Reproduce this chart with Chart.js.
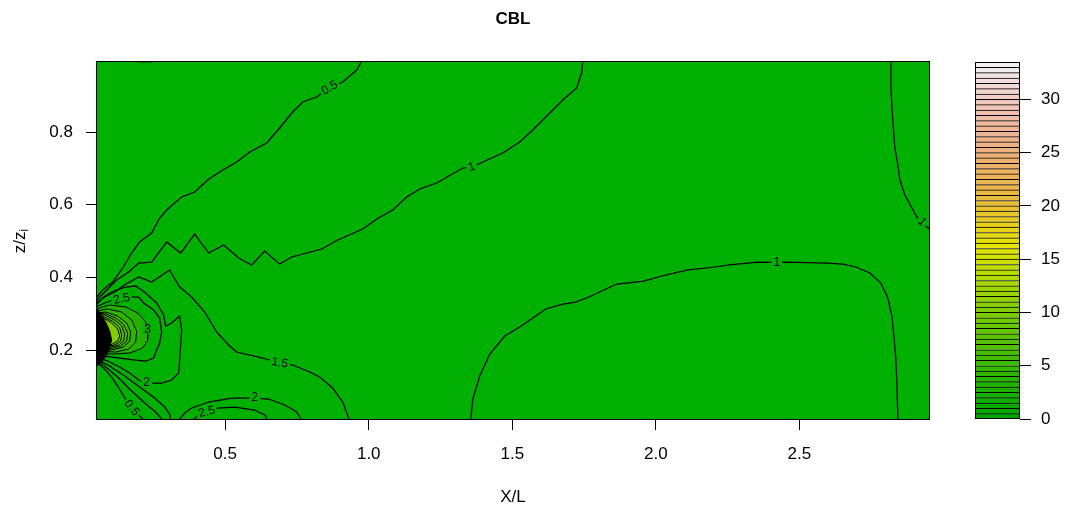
<!DOCTYPE html>
<html>
<head>
<meta charset="utf-8">
<script src="https://cdn.jsdelivr.net/npm/chart.js@4.4.0/dist/chart.umd.min.js"></script>
<style>
  html, body { margin: 0; padding: 0; background: #fff; }
  #wrap { position: relative; width: 1067px; height: 515px; }
  #main { position: absolute; left: 0; top: 0; }
  #key { position: absolute; left: 960px; top: 0; }
</style>
</head>
<body>
<div id="wrap">
  <canvas id="main" width="960" height="515"></canvas>
  <canvas id="key" width="107" height="515"></canvas>
</div>
<script>
// axes
var xTicks = [0.5, 1.0, 1.5, 2.0, 2.5];
var yTicks = [0.2, 0.4, 0.6, 0.8];
var keyTicks = [0, 5, 10, 15, 20, 25, 30];
var colorLevels = [0, 0.5, 1, 1.5, 2, 2.5, 3, 3.5, 4, 4.5, 5, 5.5, 6, 6.5, 7, 7.5, 8, 8.5, 9, 9.5,
  10, 10.5, 11, 11.5, 12, 12.5, 13, 13.5, 14, 14.5, 15, 15.5, 16, 16.5, 17, 17.5, 18, 18.5, 19, 19.5,
  20, 20.5, 21, 21.5, 22, 22.5, 23, 23.5, 24, 24.5, 25, 25.5, 26, 26.5, 27, 27.5, 28, 28.5, 29, 29.5,
  30, 30.5, 31, 31.5, 32, 32.5, 33, 33.5];

// contour lines, [X/L, z/zi]
var c05Upper = [[0.05,.3432],[.0732,.3653],[.1080,.3873],[.1429,.4258],[.1742,.4671],[.2021,.4974],[.2439,.5222],
  [.2718,.5634],[.2962,.5855],[.3484,.6212],[.3937,.6350],[.4390,.6680],[.4913,.6956],[.5401,.7176],[.5854,.7451],
  [.6446,.7699],[.6899,.8112],[.7352,.8552],[.7700,.8827],[.8188,.8965],[.8641,.9213],[.9094,.9378],[.9582,.9708],[.9756,.9956]];
var c10Upper = [[0.05,.3350],[.0871,.3653],[.1220,.3928],[.1638,.4148],[.1986,.4396],[.2439,.4423],[.2962,.4974],
  [.3449,.4671],[.3937,.5194],[.4425,.4671],[.4948,.4891],[.5470,.4533],[.5923,.4341],[.6376,.4726],[.6899,.4368],
  [.7317,.4561],[.7840,.4671],[.8362,.4781],[.8920,.5029],[.9791,.5332],[1.0279,.5607],[1.0836,.5855],[1.1324,.6212],
  [1.1777,.6433],[1.2369,.6598],[1.3275,.7011],[1.3589,.7038],[1.3972,.7176],[1.4669,.7424],[1.5261,.7726],
  [1.5714,.8057],[1.6237,.8470],[1.6760,.8882],[1.7247,.9213],[1.7422,.9653],[1.7456,.9956]];
var c15Upper = [[0.05,.3295],[.0801,.3460],[.1150,.3598],[.1498,.3790],[.1986,.4010],[.2439,.3873],[.3066,.4203],
  [.3415,.3735],[.3833,.3460],[.4286,.3047],[.4704,.2497],[.5122,.2139],[.5401,.1946],[.6307,.1781],[.6899,.1643],
  [.7352,.1588],[.7944,.1396],[.8293,.1258],[.8746,.0955],[.9094,.0570],[.9303,.0129],[.9321,.0074]];
var c20Loop = [[0.05,.3240],[.0767,.3460],[.1115,.3625],[.1533,.3735],[.1882,.3763],[.2230,.3570],[.2613,.3295],
  [.2857,.2965],[.2927,.2662],[.3136,.2744],[.3415,.2937],[.3484,.2552],[.3449,.2139],[.3415,.1726],[.3380,.1368],
  [.3136,.1175],[.2787,.1093],[.2265,.1093],[.1986,.1175],[.1672,.1368],[.1324,.1533],[.0906,.1698],[0.05,.1808]];
var c25Loop = [[0.05,.3185],[.0801,.3295],[.1080,.3377],[.1394,.3405],[.1742,.3460],[.1986,.3460],[.2160,.3295],
  [.2509,.3102],[.2718,.2882],[.2787,.2497],[.2718,.2194],[.2613,.2001],[.2509,.1781],[.2230,.1698],[.1882,.1726],
  [.1324,.1781],[.0801,.1836],[0.05,.1863]];
var c30Loop = [[0.05,.3130],[.0976,.3240],[.1533,.3185],[.1951,.3019],[.2230,.2772],[.2300,.2552],[.2300,.2276],
  [.2125,.2056],[.1672,.1919],[.1045,.1891],[0.05,.1919]];
var c40Loop = [[0.05,.3075],[.0906,.3130],[.1394,.3047],[.1742,.2827],[.1916,.2524],[.1882,.2221],[.1638,.2029],
  [.1185,.1946],[0.05,.1974]];
var c50Loop = [[0.05,.3019],[.0836,.3047],[.1254,.2937],[.1568,.2744],[.1707,.2497],[.1672,.2249],[.1463,.2084],
  [.1045,.2001],[0.05,.2029]];
var c60Loop = [[0.05,.2992],[.0801,.3006],[.1185,.2882],[.1463,.2703],[.1603,.2469],[.1568,.2249],[.1359,.2111],
  [.0976,.2029],[0.05,.2056]];
var c70Loop = [[0.05,.2965],[.0801,.2965],[.1150,.2827],[.1394,.2662],[.1498,.2441],[.1463,.2249],[.1289,.2139],
  [.0906,.2056],[0.05,.2084]];
var c80Loop = [[0.05,.2937],[.0767,.2923],[.1080,.2786],[.1324,.2620],[.1394,.2414],[.1359,.2249],[.1150,.2139],
  [.0836,.2084],[0.05,.2111]];
var c100Loop = [[0.05,.2910],[.0767,.2882],[.1045,.2744],[.1254,.2579],[.1324,.2386],[.1254,.2249],[.1010,.2139],
  [0.05,.2139]];
var sourceCore = [[0.05,.3185],[.0662,.2992],[.0836,.2772],[.0976,.2524],[.1045,.2276],[.0941,.1974],[.0767,.1726],
  [0.05,.1533]];
var c05Lower = [[0.05,.1671],[.0767,.1506],[.1045,.1258],[.1254,.1010],[.1463,.0735],[.1742,.0405],[.2021,.0184],[.2160,.0074]];
var c10Lower = [[0.05,.1726],[.0836,.1533],[.1254,.1258],[.1672,.0928],[.2195,.0542],[.2578,.0295],[.2822,.0074]];
var c15Lower = [[0.05,.1753],[.0976,.1561],[.1498,.1285],[.2021,.0983],[.2544,.0680],[.2892,.0432],[.3066,.0240],[.3101,.0074]];
var c20Ground = [[.3380,.0074],[.3589,.0267],[.3833,.0405],[.4425,.0570],[.5226,.0680],[.6028,.0680],[.6516,.0652],
  [.7073,.0487],[.7491,.0295],[.7666,.0074]];
var c25Ground = [[.3868,.0074],[.4042,.0184],[.4355,.0295],[.4739,.0405],[.5331,.0432],[.6028,.0350],[.6376,.0212],[.6481,.0074]];
var c10Arc = [[1.3554,.0074],[1.3624,.0652],[1.3868,.1285],[1.4216,.1891],[1.4739,.2386],[1.5261,.2634],[1.6167,.3130],
  [1.6760,.3267],[1.7213,.3322],[1.7666,.3460],[1.8188,.3653],[1.8641,.3818],[1.9582,.3900],[2.0209,.4038],
  [2.1080,.4203],[2.2056,.4286],[2.2648,.4354],[2.3554,.4423],[2.4216,.4410],[2.4564,.4423],[2.5993,.4396],
  [2.6516,.4368],[2.6969,.4286],[2.7456,.4120],[2.7840,.3845],[2.8084,.3432],[2.8223,.2937],[2.8293,.2386],
  [2.8362,.1753],[2.8397,.1093],[2.8432,.0074]];
var c10Right = [[2.8188,.9956],[2.8188,.9213],[2.8258,.8277],[2.8328,.7561],[2.8432,.7093],[2.8502,.6680],
  [2.8676,.6268],[2.8920,.5910],[2.9094,.5662],[2.9268,.5524],[2.9443,.5387],[2.9547,.5332]];
var cTopBit = [[.195,.9935],[.244,.9935]];

// contour labels
var labelText = ['0.5', '1', '1.5', '2', '2', '2.5', '2.5', '3', '1', '1', '0.5'];
var labelX = [.8641, 1.3589, .6899, .2265, .6028, .4355, .1394, .2300, 2.4216, 2.9268, .1742];
var labelY = [.9213, .7038, .1643, .1093, .0680, .0295, .3405, .2552, .4410, .5524, .0405];
var labelAngle = [-30, -17, 10, 0, 0, -15, -12, 0, 0, 45, 50];

var fontFam = '"Liberation Sans", Arial, Helvetica, sans-serif';
var plotGreen = 'rgb(0,176,0)';
var lineW = 1.25;

// R terrain.colors
function hsv(h, s, v) {
  var i = Math.floor(h * 6), f = h * 6 - i;
  var p = v * (1 - s), q = v * (1 - f * s), t = v * (1 - (1 - f) * s);
  var r, g, b;
  switch (((i % 6) + 6) % 6) {
    case 0: r = v; g = t; b = p; break;
    case 1: r = q; g = v; b = p; break;
    case 2: r = p; g = v; b = t; break;
    case 3: r = p; g = q; b = v; break;
    case 4: r = t; g = p; b = v; break;
    default: r = v; g = p; b = q;
  }
  return 'rgb(' + Math.round(r * 255) + ',' + Math.round(g * 255) + ',' + Math.round(b * 255) + ')';
}
function terrainColors(n) {
  var k = Math.floor(n / 2), out = [];
  for (var i = 0; i < k; i++) {
    var t = k > 1 ? i / (k - 1) : 0;
    out.push(hsv(4/12 - 2/12 * t, 1, 0.65 + 0.25 * t));
  }
  for (var j = 1; j <= n - k; j++) {
    var u = j / (n - k);
    out.push(hsv(2/12 - 2/12 * u, 1 - u, 0.9 + 0.05 * u));
  }
  return out;
}
var bandColors = terrainColors(colorLevels.length - 1);

function pts(arr) { return arr.map(function (p) { return { x: p[0], y: p[1] }; }); }

function lineSet(arr) {
  return { data: pts(arr), showLine: true, borderColor: '#000', borderWidth: lineW, pointRadius: 0, fill: false, order: 1 };
}
function ringSet(arr, col, ord) {
  return { data: pts(arr), showLine: true, borderColor: '#000', borderWidth: 1, pointRadius: 0,
    fill: 'shape', backgroundColor: col, order: ord };
}

var datasets = [
  { data: pts(sourceCore), showLine: true, borderColor: '#000', borderWidth: 1, pointRadius: 0,
    fill: 'shape', backgroundColor: '#000', order: 0 },
  lineSet(c05Upper), lineSet(c10Upper), lineSet(c15Upper), lineSet(c20Loop), lineSet(c25Loop),
  lineSet(c05Lower), lineSet(c10Lower), lineSet(c15Lower), lineSet(c20Ground), lineSet(c25Ground),
  lineSet(c10Arc), lineSet(c10Right), lineSet(cTopBit),
  ringSet(c100Loop, bandColors[20], 2),
  ringSet(c80Loop, bandColors[16], 3),
  ringSet(c70Loop, bandColors[14], 4),
  ringSet(c60Loop, bandColors[12], 5),
  ringSet(c50Loop, bandColors[10], 6),
  ringSet(c40Loop, bandColors[8], 7),
  ringSet(c30Loop, bandColors[6], 8)
];

var plotDecor = {
  id: 'plotDecor',
  beforeDatasetsDraw: function (chart) {
    var a = chart.chartArea, ctx = chart.ctx;
    ctx.save();
    ctx.fillStyle = plotGreen;
    ctx.fillRect(a.left, a.top, a.right - a.left, a.bottom - a.top);
    ctx.restore();
  },
  afterDatasetsDraw: function (chart) {
    var ctx = chart.ctx, xs = chart.scales.x, ys = chart.scales.y;
    ctx.save();
    ctx.font = '12px ' + fontFam;
    labelText.forEach(function (t, i) {
      var px = xs.getPixelForValue(labelX[i]), py = ys.getPixelForValue(labelY[i]);
      ctx.save();
      ctx.translate(px, py);
      ctx.rotate(labelAngle[i] * Math.PI / 180);
      var w = ctx.measureText(t).width;
      ctx.fillStyle = plotGreen;
      ctx.fillRect(-w / 2 - 2, -4, w + 4, 8);
      ctx.fillStyle = '#000';
      ctx.textAlign = 'center';
      ctx.textBaseline = 'middle';
      ctx.fillText(t, 0, 0);
      ctx.restore();
    });
    ctx.restore();
  },
  afterDraw: function (chart) {
    var a = chart.chartArea, ctx = chart.ctx;
    ctx.save();
    ctx.strokeStyle = '#000';
    ctx.lineWidth = 1;
    ctx.strokeRect(Math.round(a.left) + 0.5, Math.round(a.top) + 0.5,
      Math.round(a.right - a.left) - 1, Math.round(a.bottom - a.top) - 1);
    ctx.fillStyle = '#000';
    ctx.textAlign = 'center';
    ctx.textBaseline = 'middle';
    var cx = (a.left + a.right) / 2;
    ctx.font = 'bold 17px ' + fontFam;
    ctx.fillText('CBL', cx, 19);
    ctx.font = '17px ' + fontFam;
    ctx.fillText('X/L', cx, 497);
    // y title z/z with subscript i
    ctx.translate(20, 241);
    ctx.rotate(-Math.PI / 2);
    ctx.textAlign = 'left';
    var w1 = ctx.measureText('z/z').width;
    ctx.font = '12px ' + fontFam;
    var w2 = ctx.measureText('i').width;
    var x0 = -(w1 + w2) / 2;
    ctx.font = '17px ' + fontFam;
    ctx.fillText('z/z', x0, 0);
    ctx.font = '12px ' + fontFam;
    ctx.fillText('i', x0 + w1, 5);
    ctx.restore();
  }
};

new Chart(document.getElementById('main'), {
  type: 'scatter',
  data: { datasets: datasets },
  options: {
    responsive: false,
    animation: false,
    events: [],
    layout: { padding: { left: 0, top: 61, right: 30, bottom: 0 } },
    plugins: { legend: { display: false }, tooltip: { enabled: false } },
    elements: { line: { tension: 0 } },
    scales: {
      x: {
        type: 'linear', min: 0.05, max: 2.955,
        afterBuildTicks: function (s) { s.ticks = xTicks.map(function (v) { return { value: v }; }); },
        afterFit: function (s) { s.height = 95; },
        grid: { drawOnChartArea: false, tickLength: 10, color: '#000' },
        border: { display: false },
        ticks: { padding: 14, maxRotation: 0, color: '#000', font: { size: 17, family: fontFam },
          callback: function (v) { return v.toFixed(1); } }
      },
      y: {
        type: 'linear', min: 0.0075, max: 0.9956,
        afterBuildTicks: function (s) { s.ticks = yTicks.map(function (v) { return { value: v }; }); },
        afterFit: function (s) { s.width = 96; },
        grid: { drawOnChartArea: false, tickLength: 10, color: '#000' },
        border: { display: false },
        ticks: { padding: 13, color: '#000', font: { size: 17, family: fontFam },
          callback: function (v) { return v.toFixed(1); } }
      }
    }
  },
  plugins: [plotDecor]
});

// colour key
var keyFrame = {
  id: 'keyFrame',
  afterDatasetsDraw: function (chart) {
    var a = chart.chartArea, ctx = chart.ctx;
    ctx.save();
    ctx.strokeStyle = '#000';
    ctx.lineWidth = 1;
    ctx.strokeRect(Math.round(a.left) + 0.5, Math.round(a.top) + 0.5,
      Math.round(a.right - a.left) - 1, Math.round(a.bottom - a.top) - 1);
    ctx.restore();
  }
};

var keySets = [];
for (var b = 0; b < colorLevels.length - 1; b++) {
  keySets.push({
    data: [colorLevels[b + 1] - colorLevels[b]],
    backgroundColor: bandColors[b],
    borderColor: '#000',
    borderWidth: { top: 1, bottom: 0, left: 0, right: 0 },
    borderSkipped: false,
    barPercentage: 1,
    categoryPercentage: 1
  });
}

new Chart(document.getElementById('key'), {
  type: 'bar',
  data: { labels: [''], datasets: keySets },
  options: {
    responsive: false,
    animation: false,
    events: [],
    layout: { padding: { left: 15, top: 62, right: 0, bottom: 96 } },
    plugins: { legend: { display: false }, tooltip: { enabled: false } },
    scales: {
      x: { stacked: true, display: false },
      y: {
        stacked: true, position: 'right', min: 0, max: colorLevels[colorLevels.length - 1],
        afterBuildTicks: function (s) { s.ticks = keyTicks.map(function (v) { return { value: v }; }); },
        afterFit: function (s) { s.width = 47; },
        grid: { drawOnChartArea: false, tickLength: 11, color: '#000' },
        border: { display: false },
        ticks: { padding: 10, color: '#000', font: { size: 17, family: fontFam } }
      }
    }
  },
  plugins: [keyFrame]
});
</script>
</body>
</html>
